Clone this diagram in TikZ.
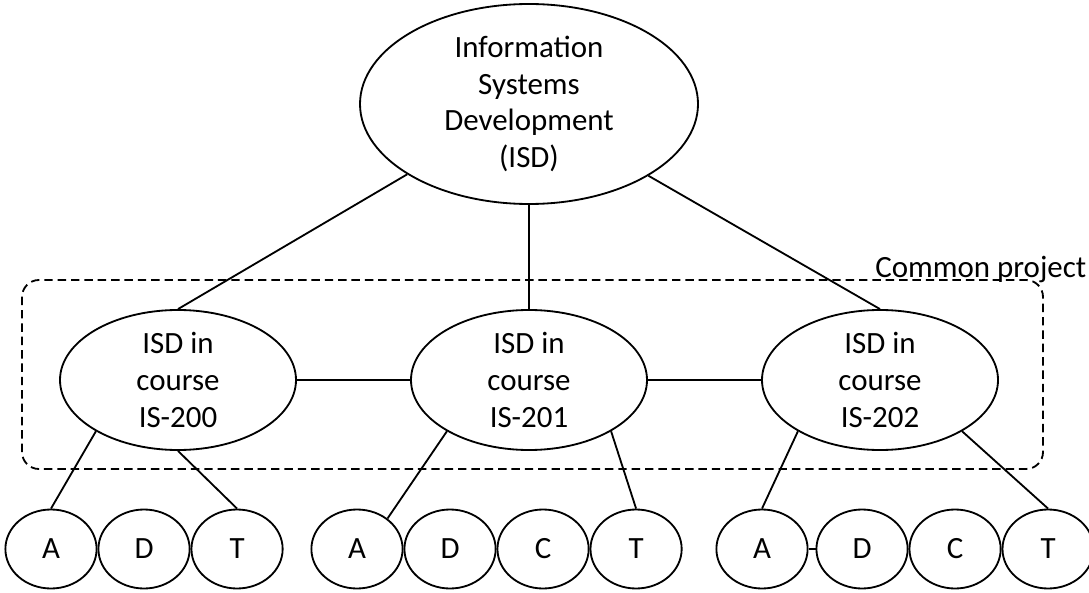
\documentclass[tikz,border=0pt]{standalone}
\usepackage{fontspec}
\setmainfont{Carlito}
\usetikzlibrary{positioning,shapes.geometric}

\begin{document}
\begin{tikzpicture}[line join=round, line width=1.3pt,
  oval/.style={ellipse, draw, inner sep=0pt, align=center, font=\fontsize{22}{26.2}\selectfont},
  course/.style={oval, minimum width=5.9cm, minimum height=3.5cm},
  phase/.style={oval, minimum width=2.28cm, minimum height=1.975cm}]
\useasboundingbox (0,0) rectangle (27.225,14.8);
% top level
\node[oval, minimum width=8.45cm, minimum height=5cm] (ISD) at (13.225,12.2) {Information\\Systems\\Development\\(ISD)};
% courses
\node[course] (IS200) at (4.45,5.3)  {ISD in\\course\\IS-200};
\node[course] (IS201) at (13.225,5.3) {ISD in\\course\\IS-201};
\node[course] (IS202) at (22.0,5.3)  {ISD in\\course\\IS-202};
% phases
\node[phase] (A1) at (1.275,1.075) {A};
\node[phase, right=0pt of A1] (D1) {D};
\node[phase, right=0pt of D1] (T1) {T};
\node[phase] (A2) at (8.925,1.075) {A};
\node[phase, right=0pt of A2] (D2) {D};
\node[phase, right=0pt of D2] (C2) {C};
\node[phase, right=0pt of C2] (T2) {T};
\node[phase] (A3) at (19.05,1.075) {A};
\node[phase, right=0.175cm of A3] (D3) {D};
\node[phase, right=0pt of D3] (C3) {C};
\node[phase, right=0pt of C3] (T3) {T};
% common project
\draw[dash pattern=on 6pt off 3.5pt, rounded corners=0.425cm] (0.55,3.075) rectangle (26.075,7.8);
\node[anchor=base east, inner sep=0pt, font=\fontsize{22}{26.2}\selectfont] (common) at (27.18,7.875) {Common project};
% connectors
\draw (ISD.210.4) -- (IS200.north);
\draw (ISD.south) -- (IS201.north);
\draw (ISD.329.6) -- (IS202.north);
\draw (IS200.east) -- (IS201.west);
\draw (IS201.east) -- (IS202.west);
\draw (IS200.212) -- (A1.north);
\draw (IS200.south) -- (T1.north);
\draw (IS201.212) -- (A2.45);
\draw (IS201.328) -- (T2.north);
\draw (IS202.212) -- (A3.north);
\draw (IS202.328) -- (T3.north);
\draw (A3.east) -- (D3.west);
\end{tikzpicture}
\end{document}
